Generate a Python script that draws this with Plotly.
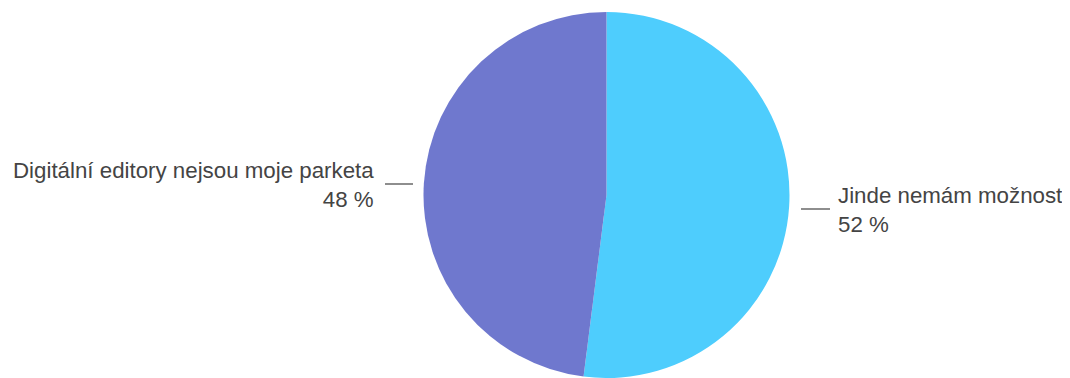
import plotly.graph_objects as go

labels = ["Jinde nemám možnost", "Digitální editory nejsou moje parketa"]
values = [52, 48]
colors = ["#4ECDFD", "#6F78CE"]

# page is rendered with the default 8px body margin
OFF = 8
W, H = 1070 - OFF, 378 - OFF
MT, MB = 4, 0
PH = H - MT - MB


def px_x(x):
    # x given in page pixels
    return (x - OFF) / W


def px_y(y):
    # y given in page pixels
    return (H - MB - (y - OFF)) / PH


cx = 606.5
half = 0.22
fig = go.Figure(
    go.Pie(
        labels=labels,
        values=values,
        sort=False,
        direction="clockwise",
        rotation=0,
        textinfo="none",
        hoverinfo="label+percent",
        marker=dict(colors=colors, line=dict(width=0)),
        domain=dict(x=[px_x(cx) - half, px_x(cx) + half], y=[0, 1]),
        showlegend=False,
    )
)

font = dict(family="Liberation Sans, Arial, sans-serif", size=22.3, color="#444444")

# right label (first slice)
fig.add_annotation(
    x=px_x(836), y=px_y(209.5), xref="paper", yref="paper",
    text=f"{labels[0]}<br>{values[0]} %", showarrow=False,
    xanchor="left", yanchor="middle", align="left", font=font,
)
# left label (second slice)
fig.add_annotation(
    x=px_x(376), y=px_y(185), xref="paper", yref="paper",
    text=f"{labels[1]}<br>{values[1]} %", showarrow=False,
    xanchor="right", yanchor="middle", align="right", font=font,
)

line = dict(color="#444444", width=1.2)
fig.add_shape(type="line", xref="paper", yref="paper",
              x0=px_x(801), x1=px_x(830), y0=px_y(209), y1=px_y(209), line=line)
fig.add_shape(type="line", xref="paper", yref="paper",
              x0=px_x(385), x1=px_x(413), y0=px_y(184), y1=px_y(184), line=line)

fig.update_layout(
    width=W, height=H,
    margin=dict(l=0, r=0, t=MT, b=MB),
    paper_bgcolor="white", plot_bgcolor="white",
)

fig.write_html("out.html")
